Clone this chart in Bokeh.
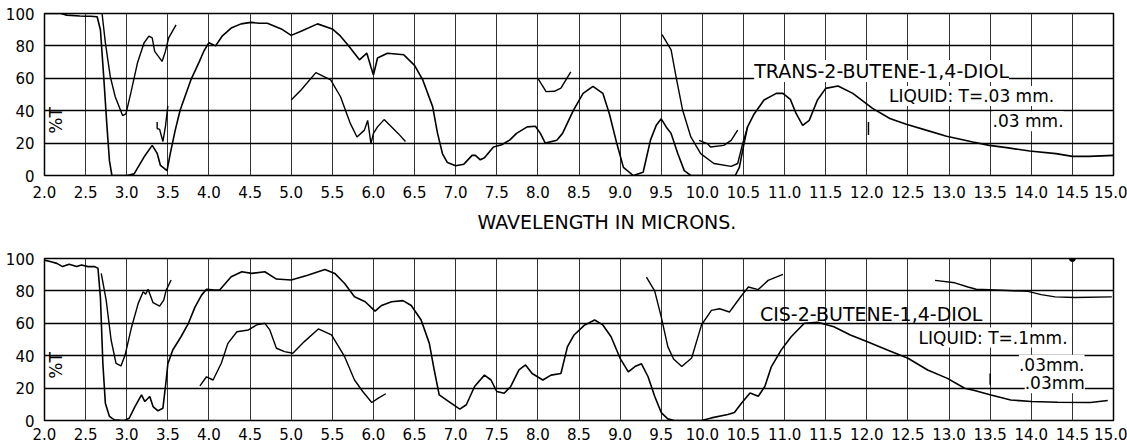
from bokeh.plotting import figure
from bokeh.models import Range1d, FixedTicker, Label, NumeralTickFormatter, Title
from bokeh.layouts import column
from bokeh.embed import file_html
from bokeh.resources import INLINE
import math

FONT = "DejaVu Sans"

x_ticks = [2.0, 2.5, 3.0, 3.5, 4.0, 4.5, 5.0, 5.5, 6.0, 6.5, 7.0, 7.5, 8.0, 8.5,
           9.0, 9.5, 10.0, 10.5, 11.0, 11.5, 12.0, 12.5, 13.0, 13.5, 14.0, 14.5, 15.0]
y_ticks = [0, 20, 40, 60, 80, 100]

x_title = "WAVELENGTH IN MICRONS."
y_title = "%T"

# ---- TRANS-2-BUTENE-1,4-DIOL (top panel) ----
trans_title = "TRANS-2-BUTENE-1,4-DIOL"
trans_notes = ["LIQUID: T=.03 mm.", ".03 mm."]

trans_main = [
    (2.0, 100), (2.1, 100), (2.2, 100), (2.27, 99), (2.43, 98.5), (2.5, 98.3), (2.56, 98.3),
    (2.64, 98), (2.68, 90), (2.72, 61), (2.76, 30), (2.79, 9), (2.82, 0), (2.9, 0), (3.0, 0),
    (3.09, 1), (3.21, 11.4), (3.31, 18.6), (3.37, 13.7), (3.41, 6.2), (3.49, 3), (3.53, 13.7),
    (3.59, 28), (3.65, 40.4), (3.78, 59), (3.88, 70), (3.94, 77), (4.0, 82), (4.08, 80),
    (4.16, 86), (4.27, 91), (4.39, 93.6), (4.51, 94.5), (4.61, 94), (4.71, 94), (4.88, 90.5),
    (5.0, 86.5), (5.12, 89), (5.32, 93.6), (5.5, 90.5), (5.6, 86), (5.7, 80), (5.83, 71.4),
    (5.92, 75.5), (5.97, 67), (6.0, 62), (6.05, 72.5), (6.17, 75.5), (6.37, 74.5), (6.5, 68),
    (6.6, 59), (6.72, 42.5), (6.78, 26), (6.84, 13.4), (6.9, 8), (7.0, 6), (7.1, 7),
    (7.2, 12.4), (7.24, 12.4), (7.3, 9.7), (7.35, 11), (7.46, 17.6), (7.56, 19), (7.66, 22),
    (7.74, 26), (7.87, 30), (7.97, 30.4), (8.03, 26), (8.09, 20), (8.23, 21.7), (8.3, 26),
    (8.43, 40), (8.55, 50.7), (8.67, 55), (8.79, 50.7), (8.87, 38), (8.96, 19.7), (9.04, 5),
    (9.16, 0), (9.28, 2), (9.37, 22), (9.44, 31), (9.5, 35), (9.56, 30), (9.62, 26),
    (9.7, 13.7), (9.78, 3), (9.86, 0), (10.0, 0), (10.2, 0), (10.4, 0), (10.45, 5),
    (10.5, 18), (10.55, 30), (10.63, 38), (10.75, 46.6), (10.9, 50.7), (10.98, 50.7),
    (11.07, 47), (11.14, 38.3), (11.22, 31), (11.3, 34), (11.4, 46.6), (11.5, 53.8),
    (11.65, 55.3), (11.83, 50.7), (12.07, 41.4), (12.28, 35.2), (12.48, 31.7), (12.72, 28),
    (12.97, 24.2), (13.29, 20.7), (13.49, 18.6), (13.7, 17.2), (13.98, 15.1), (14.3, 13.5),
    (14.5, 11.8), (14.7, 11.8), (15.0, 12.4),
]
trans_thin_a = [
    (2.7, 100), (2.74, 82), (2.8, 61), (2.86, 48.6), (2.95, 37), (2.99, 38), (3.05, 51),
    (3.13, 69.4), (3.21, 81.8), (3.27, 86), (3.31, 85), (3.34, 76.6), (3.43, 70.4),
    (3.47, 76.6), (3.51, 85), (3.6, 93),
]
trans_thin_b = [(3.37, 33), (3.37, 29), (3.4, 28.5), (3.44, 21), (3.47, 30), (3.5, 43)]
trans_thin_c = [
    (5.0, 46.6), (5.12, 52.8), (5.3, 63.5), (5.48, 59), (5.6, 48.6), (5.72, 32), (5.8, 23.8),
    (5.89, 28), (5.93, 34), (5.97, 19.7), (6.0, 26), (6.05, 30), (6.13, 34.5), (6.2, 31),
    (6.3, 26), (6.39, 21),
]
trans_thin_d = [(8.0, 60), (8.1, 51.8), (8.2, 52), (8.28, 54), (8.4, 64)]
trans_thin_e = [
    (9.51, 87), (9.62, 77.6), (9.68, 61), (9.76, 40.4), (9.86, 23.8), (9.98, 13.5),
    (10.14, 7.4), (10.35, 5.6), (10.43, 7.4), (10.49, 19.7), (10.55, 30),
]
trans_thin_f = [(9.96, 21.7), (10.06, 19.7), (10.1, 17.6), (10.26, 18.6), (10.35, 21.7), (10.43, 28)]
trans_marks = [(12.02, 25, 33)]

# ---- CIS-2-BUTENE-1,4-DIOL (bottom panel) ----
cis_title = "CIS-2-BUTENE-1,4-DIOL"
cis_notes = ["LIQUID: T=.1mm.", ".03mm.", ".03mm"]

cis_main = [
    (2.0, 99), (2.08, 98), (2.15, 97), (2.22, 95), (2.3, 96.5), (2.39, 95), (2.45, 96),
    (2.53, 95), (2.61, 95), (2.65, 94), (2.68, 76), (2.71, 35), (2.74, 10.7), (2.79, 2.5),
    (2.85, 0.4), (2.97, 0), (3.03, 1.4), (3.1, 8.6), (3.18, 15.8), (3.22, 11.7), (3.28, 14.8),
    (3.32, 8.6), (3.38, 6), (3.44, 7.6), (3.48, 25), (3.5, 35), (3.56, 43.5), (3.66, 51.7),
    (3.75, 60), (3.83, 70), (3.91, 77.4), (3.97, 81), (4.07, 80.5), (4.13, 80.5), (4.27, 88.7),
    (4.4, 91.8), (4.52, 90.8), (4.68, 91.8), (4.82, 87.3), (5.0, 86.7), (5.2, 89.7),
    (5.41, 93.2), (5.53, 90.8), (5.65, 84.6), (5.77, 76.4), (5.9, 73.3), (6.02, 67.5),
    (6.1, 71), (6.22, 73.3), (6.36, 74), (6.46, 71), (6.58, 62), (6.68, 47.6), (6.74, 31),
    (6.8, 15.8), (6.9, 12.3), (7.05, 7), (7.13, 9.7), (7.23, 21), (7.35, 28), (7.43, 25),
    (7.5, 17.9), (7.59, 16.8), (7.67, 21), (7.77, 31.2), (7.85, 34.3), (7.93, 29), (8.06, 25),
    (8.16, 28), (8.28, 29), (8.36, 45.6), (8.44, 52.8), (8.57, 59), (8.69, 62), (8.79, 59),
    (8.89, 51.7), (9.0, 38.4), (9.1, 30), (9.18, 33.3), (9.26, 35), (9.34, 27), (9.42, 15),
    (9.5, 4.9), (9.58, 1), (9.66, 0), (9.99, 0), (10.11, 1.6), (10.31, 3.7), (10.39, 4.9),
    (10.48, 11), (10.58, 17), (10.68, 15), (10.76, 21), (10.84, 33.3), (10.96, 43.6),
    (11.08, 51.7), (11.24, 60), (11.4, 60.6), (11.6, 57.9), (11.8, 52.8), (12.0, 48.7),
    (12.25, 43.5), (12.5, 38.4), (12.74, 31.2), (12.98, 26), (13.19, 19.9), (13.31, 18.5),
    (13.51, 15.8), (13.75, 12.7), (14.0, 11.7), (14.32, 11.3), (14.72, 11.1), (14.93, 12.3),
]
cis_thin_a = [
    (2.69, 90.8), (2.75, 74.3), (2.81, 49.7), (2.87, 35.3), (2.93, 33.7), (2.98, 40.4),
    (3.06, 57.9), (3.14, 72.3), (3.2, 79.5), (3.23, 78), (3.26, 81), (3.32, 72.7),
    (3.4, 70.6), (3.45, 74.3), (3.48, 80.5), (3.54, 86.7),
]
cis_thin_b = [
    (3.89, 21.4), (3.97, 27), (4.05, 25), (4.15, 35.3), (4.23, 47.6), (4.34, 54.8),
    (4.48, 55.9), (4.58, 59), (4.68, 60), (4.74, 55.9), (4.82, 44.6), (4.92, 42.5),
    (5.02, 41.5), (5.16, 48.7), (5.33, 56.5), (5.49, 52.8), (5.65, 39.4), (5.77, 25),
    (5.87, 17.9), (5.98, 11.1), (6.06, 13.8), (6.15, 16.5),
]
cis_thin_c = [
    (9.32, 88.5), (9.42, 80), (9.5, 64), (9.58, 45.6), (9.65, 38), (9.75, 33.3),
    (9.87, 38.6), (9.99, 59), (10.11, 68), (10.21, 69), (10.33, 67), (10.48, 77.3),
    (10.56, 82.4), (10.68, 80.8), (10.8, 86.5), (10.98, 90.2),
]
cis_thin_d = [
    (12.83, 86.5), (13.07, 85), (13.23, 82.4), (13.33, 81), (13.64, 80.4), (13.96, 79.7),
    (14.12, 77.7), (14.29, 76.3), (14.53, 75.9), (14.98, 76.3),
]
cis_marks = [(13.5, 22, 29)]
cis_dots = [(14.5, 100)]


def unzip(pts):
    return [p[0] for p in pts], [p[1] for p in pts]


def make_panel(height, top, bottom, label_standoff):
    p = figure(width=1127, height=height, x_range=Range1d(2.0, 15.0), y_range=Range1d(0, 100),
               output_backend="svg", toolbar_location=None,
               min_border_left=44, min_border_right=14,
               min_border_top=top, min_border_bottom=bottom)
    p.background_fill_color = "white"
    p.border_fill_color = "white"
    p.outline_line_color = "black"
    p.outline_line_width = 1.5
    for ax in (p.xaxis, p.yaxis):
        ax.axis_line_color = None
        ax.major_tick_line_color = None
        ax.minor_tick_line_color = None
        ax.major_label_text_font = FONT
        ax.major_label_text_color = "black"
    p.xaxis.ticker = FixedTicker(ticks=x_ticks)
    p.xaxis.formatter = NumeralTickFormatter(format="0.0")
    p.xaxis.major_label_text_font_size = "15px"
    p.xaxis.major_label_standoff = label_standoff
    p.yaxis.ticker = FixedTicker(ticks=y_ticks)
    p.yaxis.major_label_text_font_size = "15px"
    p.yaxis.major_label_standoff = 4
    p.xgrid.ticker = FixedTicker(ticks=x_ticks)
    p.ygrid.ticker = FixedTicker(ticks=y_ticks)
    p.xgrid.grid_line_color = "#333333"
    p.xgrid.grid_line_width = 1
    p.ygrid.grid_line_color = "black"
    p.ygrid.grid_line_width = 1.6
    p.add_layout(Label(x=2.135, y=34, text=y_title, angle=math.pi / 2, text_align="center",
                       text_baseline="middle", text_font=FONT, text_font_size="17px",
                       text_color="black"))
    return p


def draw(p, curves, main_w=1.6, thin_w=1.4):
    for i, pts in enumerate(curves):
        xs, ys = unzip(pts)
        p.line(xs, ys, line_color="black", line_width=main_w if i == 0 else thin_w)


def label(p, x, y, text, size, bg=True):
    p.add_layout(Label(x=x, y=y, text=text, text_align="left", text_baseline="middle",
                       text_font=FONT, text_font_size=size, text_color="black",
                       background_fill_color="white" if bg else None))


# top panel
p1 = make_panel(240, 13, 65, 4)
draw(p1, [trans_main, trans_thin_a, trans_thin_b, trans_thin_c, trans_thin_d,
          trans_thin_e, trans_thin_f])
for mx, y0, y1 in trans_marks:
    p1.segment([mx], [y0], [mx], [y1], line_color="black", line_width=1.5)
label(p1, 10.63, 64.5, trans_title, "19px")
label(p1, 12.27, 49, trans_notes[0], "17px")
label(p1, 13.53, 33.5, trans_notes[1], "17px")
p1.add_layout(Title(text=x_title, align="left", offset=433, standoff=16,
                    text_font=FONT, text_font_size="19px", text_font_style="normal",
                    text_color="black"), "below")

# bottom panel
p2 = make_panel(202, 18, 21, 1)
draw(p2, [cis_main, cis_thin_a, cis_thin_b, cis_thin_c, cis_thin_d])
for mx, y0, y1 in cis_marks:
    p2.segment([mx], [y0], [mx], [y1], line_color="black", line_width=1.5)
dx, dy = unzip(cis_dots)
p2.scatter(dx, dy, size=6, color="black")
label(p2, 10.70, 66, cis_title, "19px", bg=False)
label(p2, 12.63, 51.2, cis_notes[0], "17px")
label(p2, 13.85, 34.4, cis_notes[1], "17px")
label(p2, 13.92, 23, cis_notes[2], "17px")

layout = column(p1, p2, spacing=0)
open("out.html", "w").write(file_html(layout, INLINE))
